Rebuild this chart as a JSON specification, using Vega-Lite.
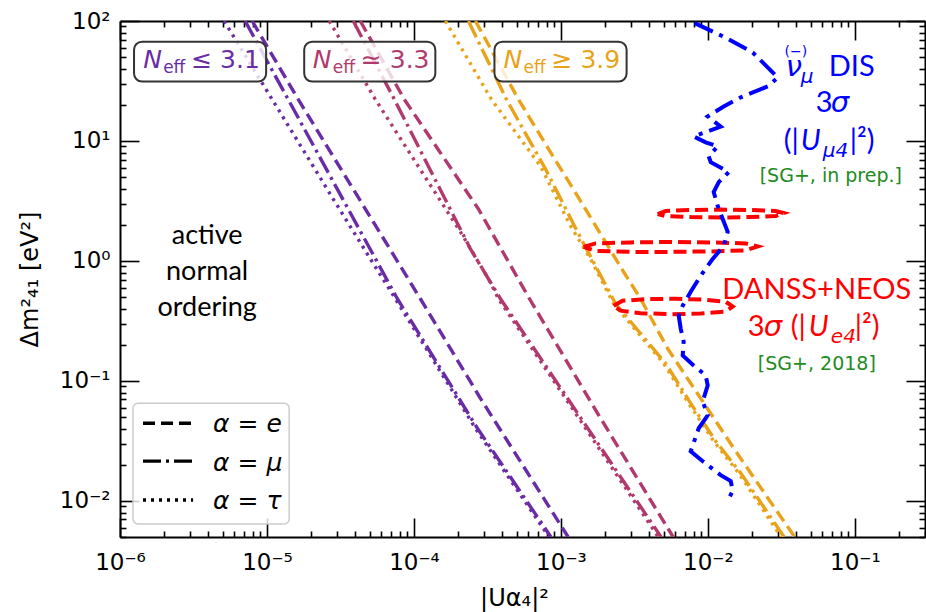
{
"$schema":"https://vega.github.io/schema/vega-lite/v6.json",
"width":805,"height":516,
"autosize":"none",
"padding":{"left":120,"top":21,"right":1,"bottom":75},
"background":"white",
"datasets":{
"lines":[
{"g":"p","a":"e","x":7.93e-6,"y":100},{"g":"p","a":"e","x":1.632e-5,"y":22.2},{"g":"p","a":"e","x":1.106e-4,"y":0.484},{"g":"p","a":"e","x":2.834e-4,"y":0.0716},{"g":"p","a":"e","x":1.12e-3,"y":0.005},
{"g":"p","a":"μ","x":7.10e-6,"y":100},{"g":"p","a":"μ","x":1.394e-5,"y":22.2},{"g":"p","a":"μ","x":7.71e-5,"y":0.484},{"g":"p","a":"μ","x":2.703e-4,"y":0.0403},{"g":"p","a":"μ","x":8.55e-4,"y":0.005},
{"g":"p","a":"τ","x":5.11e-6,"y":100},{"g":"p","a":"τ","x":1.085e-5,"y":22.2},{"g":"p","a":"τ","x":2.825e-5,"y":3.28},{"g":"p","a":"τ","x":5.05e-5,"y":1.041},{"g":"p","a":"τ","x":7.47e-5,"y":0.484},{"g":"p","a":"τ","x":2.62e-4,"y":0.0403},{"g":"p","a":"τ","x":8.3e-4,"y":0.005},
{"g":"m","a":"e","x":4.314e-5,"y":100},{"g":"m","a":"e","x":8.6e-5,"y":22.2},{"g":"m","a":"e","x":2.746e-4,"y":2.71},{"g":"m","a":"e","x":6.11e-4,"y":0.484},{"g":"m","a":"e","x":1.861e-3,"y":0.0488},{"g":"m","a":"e","x":5.8e-3,"y":0.005},
{"g":"m","a":"μ","x":3.866e-5,"y":100},{"g":"m","a":"μ","x":7.36e-5,"y":22.2},{"g":"m","a":"μ","x":2.423e-4,"y":1.26},{"g":"m","a":"μ","x":3.877e-4,"y":0.484},{"g":"m","a":"μ","x":1.109e-3,"y":0.0716},{"g":"m","a":"μ","x":4.8e-3,"y":0.005},
{"g":"m","a":"τ","x":2.653e-5,"y":100},{"g":"m","a":"τ","x":5.46e-5,"y":22.2},{"g":"m","a":"τ","x":2.071e-4,"y":1.745},{"g":"m","a":"τ","x":3.212e-4,"y":0.71},{"g":"m","a":"τ","x":3.757e-4,"y":0.484},{"g":"m","a":"τ","x":1.075e-3,"y":0.0716},{"g":"m","a":"τ","x":4.6e-3,"y":0.005},
{"g":"o","a":"e","x":2.62e-4,"y":100},{"g":"o","a":"e","x":5.143e-4,"y":22.2},{"g":"o","a":"e","x":8.49e-4,"y":8.06},{"g":"o","a":"e","x":1.298e-3,"y":3.47},{"g":"o","a":"e","x":1.951e-3,"y":1.526},{"g":"o","a":"e","x":2.669e-3,"y":0.812},{"g":"o","a":"e","x":3.485e-3,"y":0.484},{"g":"o","a":"e","x":5.32e-3,"y":0.1862},{"g":"o","a":"e","x":8.93e-3,"y":0.0716},{"g":"o","a":"e","x":1.498e-2,"y":0.0275},{"g":"o","a":"e","x":2.555e-2,"y":0.01057},{"g":"o","a":"e","x":3.9e-2,"y":0.005},
{"g":"o","a":"μ","x":2.348e-4,"y":100},{"g":"o","a":"μ","x":4.261e-4,"y":22.2},{"g":"o","a":"μ","x":7.86e-4,"y":5.82},{"g":"o","a":"μ","x":1.318e-3,"y":1.68},{"g":"o","a":"μ","x":2.354e-3,"y":0.44},{"g":"o","a":"μ","x":3.485e-3,"y":0.248},{"g":"o","a":"μ","x":5.16e-3,"y":0.1397},{"g":"o","a":"μ","x":7.64e-3,"y":0.065},{"g":"o","a":"μ","x":1.13e-2,"y":0.03145},{"g":"o","a":"μ","x":1.673e-2,"y":0.01705},{"g":"o","a":"μ","x":3.3e-2,"y":0.005},
{"g":"o","a":"τ","x":1.637e-4,"y":100},{"g":"o","a":"τ","x":3.367e-4,"y":22.2},{"g":"o","a":"τ","x":7.26e-4,"y":6.17},{"g":"o","a":"τ","x":1.163e-3,"y":1.956},{"g":"o","a":"τ","x":1.591e-3,"y":1.041},{"g":"o","a":"τ","x":2.282e-3,"y":0.44},{"g":"o","a":"τ","x":3.379e-3,"y":0.248},{"g":"o","a":"τ","x":5.0e-3,"y":0.1397},{"g":"o","a":"τ","x":7.4e-3,"y":0.065},{"g":"o","a":"τ","x":1.095e-2,"y":0.03145},{"g":"o","a":"τ","x":1.621e-2,"y":0.01705},{"g":"o","a":"τ","x":3.15e-2,"y":0.005}
],
"dis":[
{"i":0,"x":8.13e-3,"y":96},{"i":1,"x":1.322e-2,"y":72.6},{"i":2,"x":2.02e-2,"y":54.6},{"i":3,"x":2.99e-2,"y":33.8},{"i":4,"x":2.555e-2,"y":28.5},{"i":5,"x":1.673e-2,"y":23.1},{"i":6,"x":1.281e-2,"y":19.4},{"i":7,"x":9.97e-3,"y":16.0},{"i":8,"x":1.222e-2,"y":13.2},{"i":9,"x":8.0e-3,"y":10.9},{"i":10,"x":9.66e-3,"y":9.75},{"i":11,"x":1.166e-2,"y":9.03},{"i":12,"x":1.013e-2,"y":7.46},{"i":13,"x":1.045e-2,"y":6.65},{"i":14,"x":1.386e-2,"y":5.5},{"i":15,"x":1.185e-2,"y":4.54},{"i":16,"x":1.095e-2,"y":3.75},{"i":17,"x":1.166e-2,"y":2.87},{"i":18,"x":1.261e-2,"y":2.24},{"i":19,"x":1.364e-2,"y":1.746},{"i":20,"x":1.281e-2,"y":1.334},{"i":21,"x":1.078e-2,"y":1.04},{"i":22,"x":8.93e-3,"y":0.752},{"i":23,"x":7.64e-3,"y":0.553},{"i":24,"x":6.74e-3,"y":0.424},{"i":25,"x":6.33e-3,"y":0.35},{"i":26,"x":6.53e-3,"y":0.273},{"i":27,"x":6.84e-3,"y":0.213},{"i":28,"x":6.74e-3,"y":0.163},{"i":29,"x":8.0e-3,"y":0.1346},{"i":30,"x":9.66e-3,"y":0.1111},{"i":31,"x":9.97e-3,"y":0.0918},{"i":32,"x":9.22e-3,"y":0.0676},{"i":33,"x":9.97e-3,"y":0.0517},{"i":34,"x":8.66e-3,"y":0.0403},{"i":35,"x":7.64e-3,"y":0.0259},{"i":36,"x":9.22e-3,"y":0.0214},{"i":37,"x":1.222e-2,"y":0.0164},{"i":38,"x":1.43e-2,"y":0.01462},{"i":39,"x":1.475e-2,"y":0.01213},{"i":40,"x":1.364e-2,"y":0.01002}
],
"ell":[
{"e":1,"i":0,"x":4.55e-3,"y":2.461},{"e":1,"i":1,"x":5.16e-3,"y":2.607},{"e":1,"i":2,"x":7.64e-3,"y":2.657},{"e":1,"i":3,"x":1.222e-2,"y":2.683},{"e":1,"i":4,"x":1.957e-2,"y":2.657},{"e":1,"i":5,"x":2.897e-2,"y":2.607},{"e":1,"i":6,"x":3.284e-2,"y":2.509},{"e":1,"i":7,"x":2.897e-2,"y":2.369},{"e":1,"i":8,"x":1.957e-2,"y":2.324},{"e":1,"i":9,"x":1.222e-2,"y":2.302},{"e":1,"i":10,"x":7.64e-3,"y":2.324},{"e":1,"i":11,"x":5.16e-3,"y":2.369},{"e":1,"i":12,"x":4.55e-3,"y":2.461},
{"e":2,"i":0,"x":1.426e-3,"y":1.309},{"e":2,"i":1,"x":1.72e-3,"y":1.4},{"e":2,"i":2,"x":2.98e-3,"y":1.427},{"e":2,"i":3,"x":5.58e-3,"y":1.441},{"e":2,"i":4,"x":1.045e-2,"y":1.427},{"e":2,"i":5,"x":1.809e-2,"y":1.4},{"e":2,"i":6,"x":2.184e-2,"y":1.322},{"e":2,"i":7,"x":1.809e-2,"y":1.225},{"e":2,"i":8,"x":1.045e-2,"y":1.201},{"e":2,"i":9,"x":5.58e-3,"y":1.19},{"e":2,"i":10,"x":2.98e-3,"y":1.19},{"e":2,"i":11,"x":1.72e-3,"y":1.213},{"e":2,"i":12,"x":1.426e-3,"y":1.309},
{"e":3,"i":0,"x":2.282e-3,"y":0.424},{"e":3,"i":1,"x":2.628e-3,"y":0.466},{"e":3,"i":2,"x":3.771e-3,"y":0.48},{"e":3,"i":3,"x":6.04e-3,"y":0.484},{"e":3,"i":4,"x":9.66e-3,"y":0.475},{"e":3,"i":5,"x":1.322e-2,"y":0.457},{"e":3,"i":6,"x":1.475e-2,"y":0.416},{"e":3,"i":7,"x":1.322e-2,"y":0.378},{"e":3,"i":8,"x":8.93e-3,"y":0.364},{"e":3,"i":9,"x":5.58e-3,"y":0.36},{"e":3,"i":10,"x":3.485e-3,"y":0.367},{"e":3,"i":11,"x":2.547e-3,"y":0.385},{"e":3,"i":12,"x":2.282e-3,"y":0.424}
],
"boxes":[
{"g":"p","x1":1.246e-6,"x2":9.87e-6,"y1":67.3,"y2":31.3,"xc":3.51e-6,"yb":40.2,"rest":"≤ 3.1"},
{"g":"m","x1":1.792e-5,"x2":1.398e-4,"y1":67.3,"y2":31.3,"xc":5.01e-5,"yb":40.2,"rest":"≃ 3.3"},
{"g":"o","x1":3.53e-4,"x2":2.798e-3,"y1":67.3,"y2":31.3,"xc":9.94e-4,"yb":40.2,"rest":"≥ 3.9"}
],
"one":[{}]
},
"layer":[
{"data":{"name":"lines"},
 "mark":{"type":"line","clip":true,"strokeWidth":3.4},
 "encoding":{
  "x":{"field":"x","type":"quantitative","scale":{"type":"log","domain":[1e-6,0.3],"nice":false},
   "axis":{"orient":"bottom","values":[1e-6,2e-6,3e-6,4e-6,5e-6,6e-6,7e-6,8e-6,9e-6,1e-5,2e-5,3e-5,4e-5,5e-5,6e-5,7e-5,8e-5,9e-5,1e-4,2e-4,3e-4,4e-4,5e-4,6e-4,7e-4,8e-4,9e-4,1e-3,2e-3,3e-3,4e-3,5e-3,6e-3,7e-3,8e-3,9e-3,0.01,0.02,0.03,0.04,0.05,0.06,0.07,0.08,0.09,0.1,0.2,0.3],
    "labelExpr":"abs(log(datum.value)/LN10-round(log(datum.value)/LN10))<0.01 ? '10'+['⁻⁶','⁻⁵','⁻⁴','⁻³','⁻²','⁻¹','⁰','¹','²'][round(log(datum.value)/LN10)+6] : ''",
    "labelFlush":false,"labelOverlap":false,"labelPadding":33,
    "tickSize":{"condition":{"test":"abs(log(datum.value)/LN10-round(log(datum.value)/LN10))<0.01","value":-19},"value":-6},
    "title":"|Uα₄|²","titleX":394,"titleY":68,"titleAlign":"center","titleBaseline":"alphabetic","titleAngle":0}},
  "y":{"field":"y","type":"quantitative","scale":{"type":"log","domain":[0.005,100],"nice":false},
   "axis":{"orient":"left","values":[0.005,0.006,0.007,0.008,0.009,0.01,0.02,0.03,0.04,0.05,0.06,0.07,0.08,0.09,0.1,0.2,0.3,0.4,0.5,0.6,0.7,0.8,0.9,1,2,3,4,5,6,7,8,9,10,20,30,40,50,60,70,80,90,100],
    "labelExpr":"abs(log(datum.value)/LN10-round(log(datum.value)/LN10))<0.01 ? '10'+['⁻⁶','⁻⁵','⁻⁴','⁻³','⁻²','⁻¹','⁰','¹','²'][round(log(datum.value)/LN10)+6] : ''",
    "labelOverlap":false,"labelPadding":29,
    "tickSize":{"condition":{"test":"abs(log(datum.value)/LN10-round(log(datum.value)/LN10))<0.01","value":-19},"value":-6},
    "title":"Δm²₄₁ [eV²]","titleX":-90,"titleY":258,"titleAngle":-90,"titleAlign":"center","titleBaseline":"middle"}},
  "color":{"field":"g","type":"nominal","scale":{"domain":["p","m","o"],"range":["#6a2ca6","#b03a6d","#e8a31b"]},"legend":null},
  "strokeDash":{"field":"a","type":"nominal","scale":{"domain":["e","μ","τ"],"range":[[12,6],[18,5,3,5],[3,5]]},"legend":null}
 }},
{"data":{"name":"ell"},
 "mark":{"type":"line","clip":true,"strokeWidth":4,"color":"#ff0000","strokeDash":[13,6]},
 "encoding":{"x":{"field":"x","type":"quantitative","axis":null},"y":{"field":"y","type":"quantitative","axis":null},"detail":{"field":"e"},"order":{"field":"i","type":"quantitative"}}},
{"data":{"name":"dis"},
 "mark":{"type":"line","clip":true,"strokeWidth":4,"color":"#0000ff","strokeDash":[20,7,4,7]},
 "encoding":{
  "x":{"field":"x","type":"quantitative","axis":{"orient":"top","values":[1e-6,2e-6,3e-6,4e-6,5e-6,6e-6,7e-6,8e-6,9e-6,1e-5,2e-5,3e-5,4e-5,5e-5,6e-5,7e-5,8e-5,9e-5,1e-4,2e-4,3e-4,4e-4,5e-4,6e-4,7e-4,8e-4,9e-4,1e-3,2e-3,3e-3,4e-3,5e-3,6e-3,7e-3,8e-3,9e-3,0.01,0.02,0.03,0.04,0.05,0.06,0.07,0.08,0.09,0.1,0.2,0.3],"labels":false,"title":null,"tickSize":{"condition":{"test":"abs(log(datum.value)/LN10-round(log(datum.value)/LN10))<0.01","value":-19},"value":-6}}},
  "y":{"field":"y","type":"quantitative","axis":{"orient":"right","values":[0.005,0.006,0.007,0.008,0.009,0.01,0.02,0.03,0.04,0.05,0.06,0.07,0.08,0.09,0.1,0.2,0.3,0.4,0.5,0.6,0.7,0.8,0.9,1,2,3,4,5,6,7,8,9,10,20,30,40,50,60,70,80,90,100],"labels":false,"title":null,"tickSize":{"condition":{"test":"abs(log(datum.value)/LN10-round(log(datum.value)/LN10))<0.01","value":-19},"value":-6}}},
  "order":{"field":"i","type":"quantitative"}}},
{"data":{"name":"boxes"},
 "mark":{"type":"rect","fill":"white","fillOpacity":0.8,"stroke":"#333333","strokeWidth":2,"cornerRadius":8},
 "encoding":{"x":{"field":"x1","type":"quantitative","axis":null},"x2":{"field":"x2"},"y":{"field":"y1","type":"quantitative","axis":null},"y2":{"field":"y2"}}},
{"data":{"name":"boxes"},
 "mark":{"type":"text","text":"N","font":"DejaVu Sans","fontStyle":"italic","fontSize":25,"align":"left","baseline":"alphabetic","dx":-57},
 "encoding":{"x":{"field":"xc","type":"quantitative","axis":null},"y":{"field":"yb","type":"quantitative","axis":null},"color":{"field":"g","type":"nominal","legend":null}}},
{"data":{"name":"boxes"},
 "mark":{"type":"text","text":"eff","font":"DejaVu Sans","fontSize":17,"align":"left","baseline":"alphabetic","dx":-37,"dy":5},
 "encoding":{"x":{"field":"xc","type":"quantitative","axis":null},"y":{"field":"yb","type":"quantitative","axis":null},"color":{"field":"g","type":"nominal","legend":null}}},
{"data":{"name":"boxes"},
 "mark":{"type":"text","font":"DejaVu Sans","fontSize":25,"align":"left","baseline":"alphabetic","dx":-9},
 "encoding":{"x":{"field":"xc","type":"quantitative","axis":null},"y":{"field":"yb","type":"quantitative","axis":null},"text":{"field":"rest"},"color":{"field":"g","type":"nominal","legend":null}}},
{"data":{"name":"one"},"mark":{"type":"rect","fill":"white","fillOpacity":0.8,"stroke":"#cccccc","strokeWidth":1.5,"cornerRadius":5},
 "encoding":{"x":{"datum":1.226e-6,"type":"quantitative","axis":null},"x2":{"datum":1.416e-5},"y":{"datum":0.065,"type":"quantitative","axis":null},"y2":{"datum":0.006431}}},
{"data":{"name":"one"},"mark":{"type":"rule","color":"black","strokeWidth":3.4,"strokeDash":[12,6]},
 "encoding":{"x":{"datum":1.434e-6,"type":"quantitative","axis":null},"x2":{"datum":3.143e-6},"y":{"datum":0.04436,"type":"quantitative","axis":null}}},
{"data":{"name":"one"},"mark":{"type":"rule","color":"black","strokeWidth":3.4,"strokeDash":[18,5,3,5]},
 "encoding":{"x":{"datum":1.434e-6,"type":"quantitative","axis":null},"x2":{"datum":3.143e-6},"y":{"datum":0.02145,"type":"quantitative","axis":null}}},
{"data":{"name":"one"},"mark":{"type":"rule","color":"black","strokeWidth":3.4,"strokeDash":[3,5]},
 "encoding":{"x":{"datum":1.434e-6,"type":"quantitative","axis":null},"x2":{"datum":3.143e-6},"y":{"datum":0.01017,"type":"quantitative","axis":null}}},
{"data":{"name":"one"},"mark":{"type":"text","text":["α = e","α = μ","α = τ"],"font":"DejaVu Sans","fontStyle":"italic","fontSize":25,"lineHeight":38.5,"align":"left","baseline":"alphabetic","color":"black"},
 "encoding":{"x":{"datum":4.30e-6,"type":"quantitative","axis":null},"y":{"datum":0.03735,"type":"quantitative","axis":null}}},
{"data":{"name":"one"},"mark":{"type":"text","text":["active","normal","ordering"],"font":"Lato","fontSize":27,"lineHeight":36,"align":"center","baseline":"alphabetic","color":"black"},
 "encoding":{"x":{"datum":3.915e-6,"type":"quantitative","axis":null},"y":{"datum":1.387,"type":"quantitative","axis":null}}},
{"data":{"name":"one"},"mark":{"type":"text","text":"(−)","font":"DejaVu Sans","fontSize":14,"align":"center","baseline":"alphabetic","dx":-35,"dy":-20,"color":"#0000ff"},
 "encoding":{"x":{"datum":0.0686,"type":"quantitative","axis":null},"y":{"datum":35.1,"type":"quantitative","axis":null}}},
{"data":{"name":"one"},"mark":{"type":"text","text":"ν","font":"DejaVu Sans","fontStyle":"italic","fontSize":29,"align":"left","baseline":"alphabetic","dx":-45,"color":"#0000ff"},
 "encoding":{"x":{"datum":0.0686,"type":"quantitative","axis":null},"y":{"datum":35.1,"type":"quantitative","axis":null}}},
{"data":{"name":"one"},"mark":{"type":"text","text":"μ","font":"DejaVu Sans","fontStyle":"italic","fontSize":20,"align":"left","baseline":"alphabetic","dx":-30,"dy":7,"color":"#0000ff"},
 "encoding":{"x":{"datum":0.0686,"type":"quantitative","axis":null},"y":{"datum":35.1,"type":"quantitative","axis":null}}},
{"data":{"name":"one"},"mark":{"type":"text","text":"DIS","font":"Lato","fontSize":29,"align":"left","baseline":"alphabetic","dx":-2,"color":"#0000ff"},
 "encoding":{"x":{"datum":0.0686,"type":"quantitative","axis":null},"y":{"datum":35.1,"type":"quantitative","axis":null}}},
{"data":{"name":"one"},"mark":{"type":"text","text":"3","font":"Lato","fontSize":29,"align":"left","baseline":"alphabetic","dx":-15,"color":"#0000ff"},
 "encoding":{"x":{"datum":0.0686,"type":"quantitative","axis":null},"y":{"datum":17.3,"type":"quantitative","axis":null}}},
{"data":{"name":"one"},"mark":{"type":"text","text":"σ","font":"DejaVu Sans","fontStyle":"italic","fontSize":29,"align":"left","baseline":"alphabetic","dx":0,"color":"#0000ff"},
 "encoding":{"x":{"datum":0.0686,"type":"quantitative","axis":null},"y":{"datum":17.3,"type":"quantitative","axis":null}}},
{"data":{"name":"one"},"mark":{"type":"text","text":"(|","font":"Lato","fontSize":29,"align":"left","baseline":"alphabetic","dx":-47,"color":"#0000ff"},
 "encoding":{"x":{"datum":0.0686,"type":"quantitative","axis":null},"y":{"datum":8.37,"type":"quantitative","axis":null}}},
{"data":{"name":"one"},"mark":{"type":"text","text":"U","font":"Lato","fontStyle":"italic","fontSize":29,"align":"left","baseline":"alphabetic","dx":-30,"color":"#0000ff"},
 "encoding":{"x":{"datum":0.0686,"type":"quantitative","axis":null},"y":{"datum":8.37,"type":"quantitative","axis":null}}},
{"data":{"name":"one"},"mark":{"type":"text","text":"μ4","font":"DejaVu Sans","fontStyle":"italic","fontSize":20,"align":"left","baseline":"alphabetic","dx":-8,"dy":7,"color":"#0000ff"},
 "encoding":{"x":{"datum":0.0686,"type":"quantitative","axis":null},"y":{"datum":8.37,"type":"quantitative","axis":null}}},
{"data":{"name":"one"},"mark":{"type":"text","text":"|²)","font":"Lato","fontSize":29,"align":"left","baseline":"alphabetic","dx":19,"color":"#0000ff"},
 "encoding":{"x":{"datum":0.0686,"type":"quantitative","axis":null},"y":{"datum":8.37,"type":"quantitative","axis":null}}},
{"data":{"name":"one"},"mark":{"type":"text","text":"[SG+, in prep.]","font":"DejaVu Sans","fontSize":19,"align":"center","baseline":"alphabetic","color":"#228b22"},
 "encoding":{"x":{"datum":0.0686,"type":"quantitative","axis":null},"y":{"datum":4.54,"type":"quantitative","axis":null}}},
{"data":{"name":"one"},"mark":{"type":"text","text":"DANSS+NEOS","font":"Lato","fontSize":29,"align":"center","baseline":"alphabetic","color":"#ff0000"},
 "encoding":{"x":{"datum":0.0551,"type":"quantitative","axis":null},"y":{"datum":0.484,"type":"quantitative","axis":null}}},
{"data":{"name":"one"},"mark":{"type":"text","text":"3","font":"Lato","fontSize":29,"align":"left","baseline":"alphabetic","dx":-69,"color":"#ff0000"},
 "encoding":{"x":{"datum":0.0551,"type":"quantitative","axis":null},"y":{"datum":0.2388,"type":"quantitative","axis":null}}},
{"data":{"name":"one"},"mark":{"type":"text","text":"σ","font":"DejaVu Sans","fontStyle":"italic","fontSize":29,"align":"left","baseline":"alphabetic","dx":-53,"color":"#ff0000"},
 "encoding":{"x":{"datum":0.0551,"type":"quantitative","axis":null},"y":{"datum":0.2388,"type":"quantitative","axis":null}}},
{"data":{"name":"one"},"mark":{"type":"text","text":"(|","font":"Lato","fontSize":29,"align":"left","baseline":"alphabetic","dx":-26,"color":"#ff0000"},
 "encoding":{"x":{"datum":0.0551,"type":"quantitative","axis":null},"y":{"datum":0.2388,"type":"quantitative","axis":null}}},
{"data":{"name":"one"},"mark":{"type":"text","text":"U","font":"Lato","fontStyle":"italic","fontSize":29,"align":"left","baseline":"alphabetic","dx":-8,"color":"#ff0000"},
 "encoding":{"x":{"datum":0.0551,"type":"quantitative","axis":null},"y":{"datum":0.2388,"type":"quantitative","axis":null}}},
{"data":{"name":"one"},"mark":{"type":"text","text":"e4","font":"DejaVu Sans","fontStyle":"italic","fontSize":20,"align":"left","baseline":"alphabetic","dx":14,"dy":7,"color":"#ff0000"},
 "encoding":{"x":{"datum":0.0551,"type":"quantitative","axis":null},"y":{"datum":0.2388,"type":"quantitative","axis":null}}},
{"data":{"name":"one"},"mark":{"type":"text","text":"|²)","font":"Lato","fontSize":29,"align":"left","baseline":"alphabetic","dx":38,"color":"#ff0000"},
 "encoding":{"x":{"datum":0.0551,"type":"quantitative","axis":null},"y":{"datum":0.2388,"type":"quantitative","axis":null}}},
{"data":{"name":"one"},"mark":{"type":"text","text":"[SG+, 2018]","font":"DejaVu Sans","fontSize":19,"align":"center","baseline":"alphabetic","color":"#228b22"},
 "encoding":{"x":{"datum":0.0551,"type":"quantitative","axis":null},"y":{"datum":0.1223,"type":"quantitative","axis":null}}}
],
"config":{
 "view":{"stroke":null},
 "axis":{"domainColor":"black","domainWidth":2,"tickColor":"black","tickWidth":1.6,"grid":false,"labelFont":"DejaVu Sans","labelFontSize":23,"labelColor":"black","titleFont":"DejaVu Sans","titleFontSize":24,"titleFontWeight":"normal","titleColor":"black"}
}
}
